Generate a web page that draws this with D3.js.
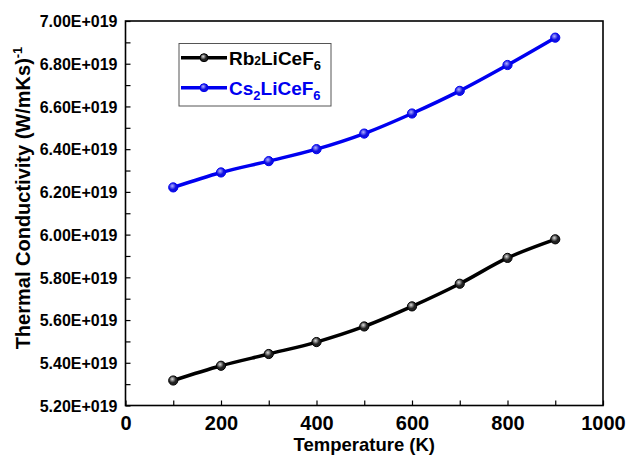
<!DOCTYPE html>
<html><head><meta charset="utf-8">
<script src="https://cdn.jsdelivr.net/npm/d3@7"></script>
<style>body{margin:0;background:#fff}svg{display:block}text{font-family:"Liberation Sans",Arial,sans-serif;font-weight:bold}</style>
</head><body>
<svg id="c" width="629" height="455"></svg>
<script>
const temps = [100,200,300,400,500,600,700,800,900];
const rbValues = [5.317,5.386,5.441,5.497,5.570,5.664,5.770,5.891,5.978];
const csValues = [6.221,6.291,6.344,6.400,6.473,6.567,6.673,6.794,6.922];
const xTicks = [0,200,400,600,800,1000];
const yTicks = [5.2,5.4,5.6,5.8,6.0,6.2,6.4,6.6,6.8,7.0];

const svg = d3.select("#c");
const m = {l:125.5, r:603, t:21, b:405.5};
const x = d3.scaleLinear().domain([0,1000]).range([m.l,m.r]);
const y = d3.scaleLinear().domain([5.2,7.0]).range([m.b,m.t]);

const defs = svg.append("defs");
function grad(id, base, hi){
  const g = defs.append("radialGradient").attr("id",id).attr("cx","40%").attr("cy","35%").attr("r","65%");
  g.append("stop").attr("offset","0%").attr("stop-color",hi);
  g.append("stop").attr("offset","60%").attr("stop-color",base);
  g.append("stop").attr("offset","100%").attr("stop-color",base);
}
grad("gBlack","#222","#ddd");
grad("gBlue","#1010e0","#b0b0ff");

// axes
const xAxis = d3.axisBottom(x).tickValues(d3.range(0,1001,100)).tickSizeInner(-5).tickSizeOuter(0)
  .tickFormat(d => xTicks.includes(d) ? d : "");
const gx = svg.append("g").attr("transform",`translate(0,${m.b})`).call(xAxis);
gx.selectAll("text").attr("dy","0").attr("y",24).style("font-size","20px").attr("fill","#000");
gx.select(".domain").remove();

const yAxis = d3.axisLeft(y).tickValues(d3.range(0,19).map(i=>5.2+i*0.1)).tickSizeInner(-5).tickSizeOuter(0)
  .tickFormat(d => yTicks.some(v=>Math.abs(v-d)<1e-6) ? d.toFixed(2)+"E+019" : "");
const gy = svg.append("g").attr("transform",`translate(${m.l},0)`).call(yAxis);
gy.selectAll("text").attr("x",-8).attr("dy","0.36em").style("font-size","16px").attr("fill","#000");
gy.select(".domain").remove();
svg.selectAll(".tick line").attr("stroke","#000").attr("stroke-width",1.2);

svg.append("rect").attr("x",m.l).attr("y",m.t).attr("width",m.r-m.l).attr("height",m.b-m.t)
  .attr("fill","none").attr("stroke","#000").attr("stroke-width",1.6);

// lines
const line = d3.line().x((d,i)=>x(temps[i])).y(d=>y(d)).curve(d3.curveCatmullRom);
const series = [
  {vals:rbValues,color:"#000",grad:"gBlack"},
  {vals:csValues,color:"#0000f0",grad:"gBlue"}
];
series.forEach(s=>{
  svg.append("path").attr("d",line(s.vals)).attr("fill","none").attr("stroke",s.color).attr("stroke-width",3.5);
  svg.selectAll(null).data(s.vals).enter().append("circle")
    .attr("cx",(d,i)=>x(temps[i])).attr("cy",d=>y(d)).attr("r",4.6)
    .attr("fill",`url(#${s.grad})`).attr("stroke",s.color).attr("stroke-width",1);
});

// legend
svg.append("rect").attr("x",179).attr("y",43.5).attr("width",152).attr("height",62.5)
  .attr("fill","#fff").attr("stroke","#555").attr("stroke-width",1);
const leg = [
  {y:57.7, color:"#000", grad:"gBlack", parts:[["Rb",0,19],["2",0,12],["LiCeF",0,19],["6",5,13]]},
  {y:87.7, color:"#0000f0", grad:"gBlue", parts:[["Cs",0,19],["2",5,13],["LiCeF",-5,19],["6",5,13]]}
];
leg.forEach(l=>{
  svg.append("line").attr("x1",181).attr("x2",227).attr("y1",l.y).attr("y2",l.y).attr("stroke",l.color).attr("stroke-width",3.5);
  svg.append("circle").attr("cx",204).attr("cy",l.y).attr("r",4).attr("fill",`url(#${l.grad})`).attr("stroke",l.color).attr("stroke-width",1);
  const t = svg.append("text").attr("x",229).attr("y",l.y+7).attr("fill",l.color);
  l.parts.forEach(p=>{
    t.append("tspan").attr("dy",p[1]).style("font-size",p[2]+"px").text(p[0]);
  });
});

// axis titles
svg.append("text").attr("x",(m.l+m.r)/2).attr("y",450.5).attr("text-anchor","middle").style("font-size","18.5px").text("Temperature (K)");
const yl = svg.append("text").attr("transform","translate(30,198) rotate(-90)").attr("text-anchor","middle").style("font-size","20px");
yl.append("tspan").text("Thermal Conductivity (W/mKs)");
yl.append("tspan").attr("dy",-8).style("font-size","13px").text("-1");
</script>
</body></html>
